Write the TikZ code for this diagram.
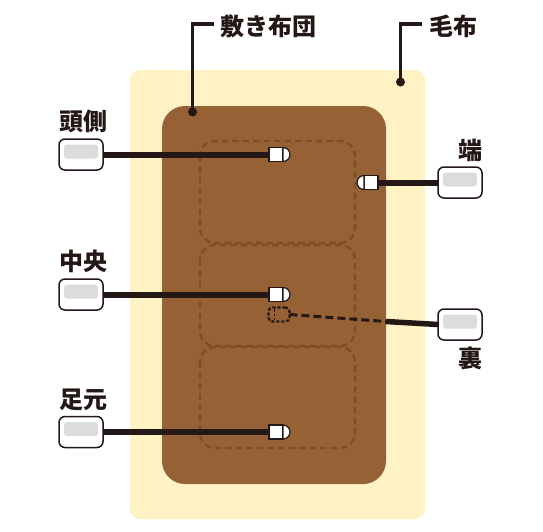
\documentclass[tikz,border=0pt]{standalone}
\usepackage{fontspec}
\setmainfont{Noto Sans CJK JP Black}
\definecolor{ink}{HTML}{231815}
\definecolor{blanket}{HTML}{FFF2C4}
\definecolor{futon}{HTML}{966134}
\definecolor{seam}{HTML}{7F4C24}
\definecolor{padgrey}{HTML}{DCDCDC}
\tikzset{
  px/.style={x=1pt,y=-1pt},
  seamline/.style={draw=seam,line width=2.2pt,dash pattern=on 6.5pt off 4pt,rounded corners=15pt},
  sensorbox/.style={draw=ink,line width=1.5pt,fill=white,rounded corners=6pt,minimum width=44pt,minimum height=31pt,inner sep=0pt,outer sep=0pt},
  probe/.style={draw=ink,line width=1.2pt,fill=white,minimum width=14pt,minimum height=14pt,inner sep=0pt,outer sep=0pt},
  cable/.style={draw=ink,line width=6pt},
  leader/.style={draw=ink,line width=3.2pt},
  dot/.style={circle,fill=ink,minimum size=9pt,inner sep=0pt,outer sep=0pt},
  lab/.style={font=\fontsize{24}{24}\selectfont,text=ink,inner sep=0pt},
}
\newcommand{\padgrey}[1]{\fill[padgrey,rounded corners=3pt] ([xshift=-17pt,yshift=10pt]#1.center) rectangle ([xshift=17pt,yshift=-4pt]#1.center);}
\begin{document}
\begin{tikzpicture}[px]
\useasboundingbox (0,0) rectangle (543,531);
% bedding
\fill[blanket,rounded corners=10pt] (130,70) rectangle (425,519);
\fill[futon,rounded corners=23pt] (162,106) rectangle (386,484);
\draw[seamline] (200,141) rectangle (355,243);
\draw[seamline] (200,245) rectangle (355,346);
\draw[seamline] (200,347) rectangle (355,448);
% sensor boxes
\node[sensorbox] (b1) at (81,154.5) {};
\node[sensorbox] (b2) at (81,294.5) {};
\node[sensorbox] (b3) at (81,432) {};
\node[sensorbox] (b4) at (460,182.5) {};
\node[sensorbox] (b5) at (460,324.5) {};
% cables
\draw[cable] (b1.east) -- (276,154.5) coordinate (e1);
\draw[cable] (b2.east) -- (276,294.5) coordinate (e2);
\draw[cable] (b3.east) -- (276,432) coordinate (e3);
\draw[cable] (b4.west) -- (371,182.5) coordinate (e4);
% probes
\node[probe] (p1) at (e1) {};
\node[probe] (p2) at (e2) {};
\node[probe] (p3) at (e3) {};
\node[probe] (p4) at (e4) {};
\foreach \p in {p1,p2,p3}{
  \draw[ink,line width=1.2pt,fill=white] (\p.north east) arc[start angle=90,end angle=-90,radius=7pt] -- cycle;
}
\draw[ink,line width=1.2pt,fill=white] (p4.north west) arc[start angle=90,end angle=270,radius=7pt] -- cycle;
% hidden probe on the back
\node[draw=ink,line width=2.2pt,dash pattern=on 3.2pt off 1.8pt,rounded corners=4pt,minimum width=21pt,minimum height=14pt,inner sep=0pt,outer sep=0pt] (p5) at (279,314.5) {};
\draw[draw=ink,line width=1.6pt,dash pattern=on 2.5pt off 2pt] (274.5,309) -- (274.5,320);
\coordinate (edge) at (386,321.5);
\draw[draw=ink,line width=3pt,dash pattern=on 8pt off 4pt] (p5.east) -- (edge);
\draw[draw=ink,line width=5.5pt] (edge) -- (b5.west);
% grey pads
\padgrey{b1}\padgrey{b2}\padgrey{b3}\padgrey{b4}\padgrey{b5}
% leaders
\node[dot] (d1) at (192.5,112) {};
\node[dot] (d2) at (400.5,82) {};
\coordinate (c1) at (214,24);
\coordinate (c2) at (422,24);
\draw[leader] (c1) -| (d1.center);
\draw[leader] (c2) -| (d2.center);
% labels
\node[lab,anchor=west] (t1) at (220,26) {敷き布団};
\node[lab,anchor=west] (t2) at (429,26) {毛布};
\node[lab] (t3) at (83.5,121) {頭側};
\node[lab] (t4) at (83.5,261) {中央};
\node[lab] (t5) at (83.5,400) {足元};
\node[lab] (t6) at (470,150) {端};
\node[lab] (t7) at (470,358) {裏};
\end{tikzpicture}
\end{document}
